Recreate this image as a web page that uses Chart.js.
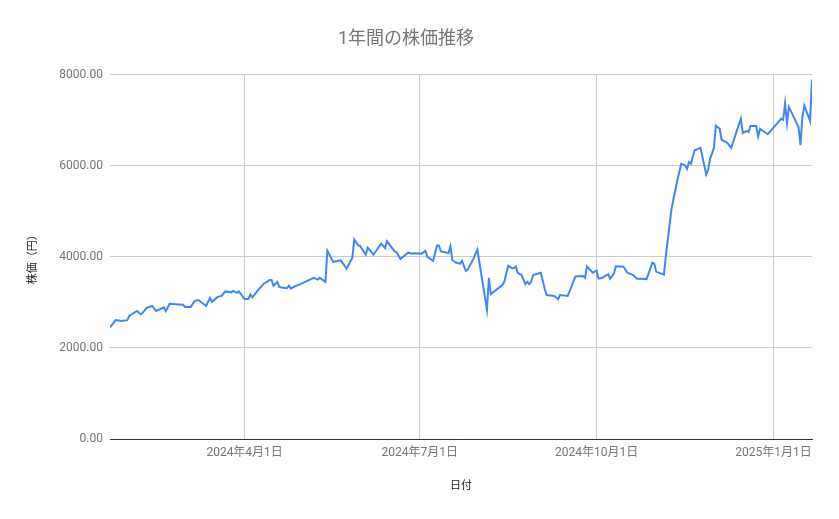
<!DOCTYPE html>
<html lang="ja">
<head>
  <meta charset="UTF-8" />
  <title>1年間の株価推移</title>
  <script src="https://cdn.jsdelivr.net/npm/chart.js@4.4.3/dist/chart.umd.min.js"></script>
  <style>
    body {
      margin: 0;
      background: #ffffff;
    }
    canvas {
      display: block;
    }
  </style>
</head>
<body>
  <canvas id="stockChart" width="839" height="519"></canvas>

  <script>
    // 日付
    const dates = [
      '2024-01-22', '2024-01-25', '2024-01-28', '2024-01-31', '2024-02-01', '2024-02-05', '2024-02-07', '2024-02-08',
      '2024-02-10', '2024-02-13', '2024-02-15', '2024-02-19', '2024-02-20', '2024-02-22', '2024-02-25', '2024-02-29',
      '2024-03-01', '2024-03-04', '2024-03-06', '2024-03-08', '2024-03-12', '2024-03-14', '2024-03-15', '2024-03-18',
      '2024-03-20', '2024-03-22', '2024-03-25', '2024-03-26', '2024-03-28', '2024-03-29', '2024-04-01', '2024-04-03',
      '2024-04-04', '2024-04-05', '2024-04-08', '2024-04-11', '2024-04-14', '2024-04-15', '2024-04-16', '2024-04-18',
      '2024-04-19', '2024-04-21', '2024-04-23', '2024-04-24', '2024-04-25', '2024-04-27', '2024-04-30', '2024-05-03',
      '2024-05-07', '2024-05-09', '2024-05-10', '2024-05-13', '2024-05-14', '2024-05-17', '2024-05-21', '2024-05-24',
      '2024-05-27', '2024-05-28', '2024-05-30', '2024-05-31', '2024-06-03', '2024-06-04', '2024-06-07', '2024-06-11',
      '2024-06-13', '2024-06-14', '2024-06-18', '2024-06-19', '2024-06-21', '2024-06-25', '2024-06-27', '2024-06-28',
      '2024-07-02', '2024-07-04', '2024-07-05', '2024-07-08', '2024-07-10', '2024-07-11', '2024-07-12', '2024-07-16',
      '2024-07-17', '2024-07-18', '2024-07-20', '2024-07-22', '2024-07-23', '2024-07-25', '2024-07-26', '2024-07-29',
      '2024-07-31', '2024-08-05', '2024-08-06', '2024-08-07', '2024-08-13', '2024-08-14', '2024-08-16', '2024-08-18',
      '2024-08-19', '2024-08-20', '2024-08-21', '2024-08-23', '2024-08-25', '2024-08-26', '2024-08-27', '2024-08-28',
      '2024-08-29', '2024-09-02', '2024-09-04', '2024-09-05', '2024-09-09', '2024-09-11', '2024-09-12', '2024-09-16',
      '2024-09-20', '2024-09-24', '2024-09-25', '2024-09-26', '2024-09-29', '2024-10-01', '2024-10-02', '2024-10-04',
      '2024-10-07', '2024-10-08', '2024-10-10', '2024-10-11', '2024-10-15', '2024-10-17', '2024-10-20', '2024-10-22',
      '2024-10-24', '2024-10-27', '2024-10-30', '2024-10-31', '2024-11-01', '2024-11-05', '2024-11-06', '2024-11-08',
      '2024-11-09', '2024-11-12', '2024-11-14', '2024-11-16', '2024-11-17', '2024-11-18', '2024-11-19', '2024-11-21',
      '2024-11-24', '2024-11-27', '2024-11-28', '2024-11-29', '2024-12-01', '2024-12-02', '2024-12-04', '2024-12-05',
      '2024-12-08', '2024-12-10', '2024-12-15', '2024-12-16', '2024-12-18', '2024-12-19', '2024-12-20', '2024-12-23',
      '2024-12-24', '2024-12-25', '2024-12-29', '2025-01-05', '2025-01-06', '2025-01-07', '2025-01-08', '2025-01-09',
      '2025-01-14', '2025-01-15', '2025-01-16', '2025-01-17', '2025-01-20', '2025-01-21'
    ];

    // 株価（円）
    const prices = [
      2450, 2610, 2590, 2610, 2700, 2810, 2740, 2770,
      2880, 2920, 2810, 2890, 2810, 2970, 2960, 2950,
      2900, 2900, 3030, 3050, 2920, 3100, 3010, 3120,
      3140, 3240, 3220, 3250, 3210, 3240, 3070, 3080,
      3170, 3110, 3270, 3410, 3490, 3490, 3360, 3450,
      3340, 3320, 3310, 3370, 3300, 3350, 3400, 3460,
      3540, 3500, 3540, 3450, 4130, 3890, 3920, 3740,
      3980, 4380, 4250, 4240, 4050, 4200, 4050, 4290,
      4190, 4340, 4120, 4100, 3950, 4090, 4070, 4080,
      4070, 4130, 4000, 3910, 4250, 4250, 4120, 4080,
      4230, 3930, 3870, 3850, 3910, 3690, 3720, 3960,
      4160, 2840, 3540, 3180, 3380, 3450, 3800, 3750,
      3750, 3790, 3650, 3600, 3400, 3450, 3400, 3450,
      3600, 3650, 3300, 3160, 3140, 3070, 3160, 3140,
      3570, 3580, 3540, 3790, 3650, 3700, 3520, 3540,
      3620, 3520, 3630, 3790, 3780, 3650, 3600, 3520,
      3520, 3510, 3870, 3850, 3670, 3610, 4010, 4730,
      5060, 5680, 6040, 6010, 5930, 6080, 6040, 6340,
      6390, 5810, 5910, 6150, 6390, 6880, 6810, 6570,
      6500, 6390, 7030, 6720, 6760, 6740, 6870, 6870,
      6640, 6810, 6690, 7030, 7010, 7370, 6930, 7290,
      6850, 6450, 7070, 7320, 6980, 7890
    ];

    // 軸の範囲と目盛
    const xRange = ['2024-01-22', '2025-01-21'];
    const xTickDates = ['2024-04-01', '2024-07-01', '2024-10-01', '2025-01-01'];
    const yTicks = [0, 2000, 4000, 6000, 8000];

    const fontFamily = "Roboto, 'Noto Sans CJK JP', sans-serif";

    function formatDate(value) {
      const d = new Date(value);
      return d.getUTCFullYear() + '年' + (d.getUTCMonth() + 1) + '月' + d.getUTCDate() + '日';
    }

    const points = dates.map((d, i) => ({ x: Date.parse(d), y: prices[i] }));

    new Chart(document.getElementById('stockChart').getContext('2d'), {
      type: 'line',
      data: {
        datasets: [{
          label: '株価',
          data: points,
          borderColor: '#4285F4',
          borderWidth: 2,
          pointRadius: 0,
          tension: 0,
          fill: false
        }]
      },
      options: {
        responsive: false,
        animation: false,
        layout: {
          padding: { left: 0, right: 27, top: 0, bottom: 0 }
        },
        plugins: {
          legend: { display: false },
          tooltip: { enabled: false },
          title: {
            display: true,
            text: '1年間の株価推移',
            color: '#757575',
            font: { family: fontFamily, size: 18, weight: 'normal' },
            padding: { top: 29, bottom: 24 }
          }
        },
        scales: {
          x: {
            type: 'linear',
            min: Date.parse(xRange[0]),
            max: Date.parse(xRange[1]),
            afterBuildTicks: (scale) => {
              scale.ticks = xTickDates.map(d => ({ value: Date.parse(d) }));
            },
            afterFit: (scale) => {
              scale.height = 80;
            },
            ticks: {
              autoSkip: false,
              maxRotation: 0,
              padding: 7,
              color: '#757575',
              font: { family: fontFamily, size: 12 },
              callback: (value) => formatDate(value)
            },
            grid: {
              color: '#cccccc',
              drawTicks: false
            },
            border: {
              display: true,
              color: '#333333',
              width: 1
            },
            title: {
              display: true,
              text: '日付',
              color: '#222222',
              font: { family: fontFamily, size: 11 },
              padding: { top: 0, bottom: 26 }
            }
          },
          y: {
            min: 0,
            max: 8000,
            afterBuildTicks: (scale) => {
              scale.ticks = yTicks.map(v => ({ value: v }));
            },
            afterFit: (scale) => {
              scale.width = 110;
            },
            ticks: {
              padding: 7,
              color: '#757575',
              font: { family: fontFamily, size: 12 },
              callback: (value) => value.toFixed(2)
            },
            grid: {
              color: '#cccccc',
              drawTicks: false
            },
            border: {
              display: false
            },
            title: {
              display: true,
              text: '株価（円）',
              color: '#222222',
              font: { family: fontFamily, size: 11 },
              padding: { top: 27, bottom: 0 }
            }
          }
        }
      }
    });
  </script>
</body>
</html>
